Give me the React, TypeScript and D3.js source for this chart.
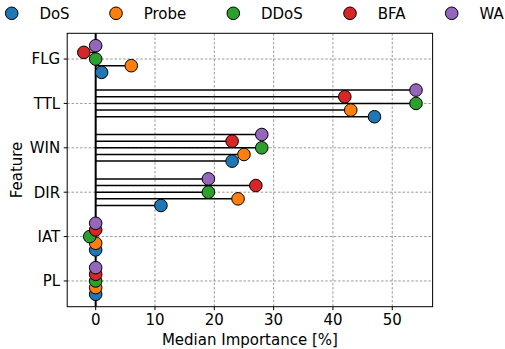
import React from "react";
import * as d3 from "d3";

const features = ["FLG", "TTL", "WIN", "DIR", "IAT", "PL"];
const seriesNames = ["DoS", "Probe", "DDoS", "BFA", "WA"];
const dosValues = [1, 47, 23, 11, 0, 0];
const probeValues = [6, 43, 25, 24, 0, 0];
const ddosValues = [0, 54, 28, 19, -1, 0];
const bfaValues = [-2, 42, 23, 27, 0, 0];
const waValues = [0, 54, 28, 19, 0, 0];
const xTicks = [0, 10, 20, 30, 40, 50];

const colors = ["#1f77b4", "#ff7f0e", "#2ca02c", "#d62728", "#9467bd"];
const offsets = [-0.3, -0.15, 0, 0.15, 0.3];
const legendX = [11.7, 116, 233.3, 350, 451.7];

const W = 505;
const H = 349;
const left = 67.2, right = 432.6, top = 33.3, bottom = 306.7;
const FONT = "'DejaVu Sans', sans-serif";
const FS = 15;

export default function App() {
  const allSeries = [dosValues, probeValues, ddosValues, bfaValues, waValues];
  const x = d3.scaleLinear().domain([-4.8, 56.8]).range([left, right]);
  const n = features.length;
  const y = d3.scaleLinear().domain([-0.58, n - 1 + 0.58]).range([bottom, top]);
  const fy = (i: number) => n - 1 - i;
  const r = 6.3;

  return (
    <svg width={W} height={H} style={{ position: "absolute", left: 0, top: 0, background: "#fff" }} fontFamily={FONT}>
      {xTicks.map((t) => (
        <line key={"gx" + t} x1={x(t)} x2={x(t)} y1={top} y2={bottom} stroke="#808080" strokeWidth={0.8} strokeDasharray="2.5,1.8" />
      ))}
      {features.map((f, i) => (
        <line key={"gy" + f} x1={left} x2={right} y1={y(fy(i))} y2={y(fy(i))} stroke="#808080" strokeWidth={0.8} strokeDasharray="2.5,1.8" />
      ))}
      <line x1={x(0)} x2={x(0)} y1={top} y2={bottom} stroke="#000" strokeWidth={2} />
      {allSeries.map((vals, s) => (
        <g key={"s" + s}>
          {vals.map((v, i) => (
            <line key={"st" + i} x1={x(0)} x2={x(v)} y1={y(fy(i) + offsets[s])} y2={y(fy(i) + offsets[s])} stroke="#000" strokeWidth={1.5} />
          ))}
        </g>
      ))}
      {allSeries.map((vals, s) => (
        <g key={"m" + s}>
          {vals.map((v, i) => (
            <circle key={"c" + i} cx={x(v)} cy={y(fy(i) + offsets[s])} r={r} fill={colors[s]} stroke="#000" strokeWidth={1} />
          ))}
        </g>
      ))}
      <rect x={left} y={top} width={right - left} height={bottom - top} fill="none" stroke="#000" strokeWidth={1} />
      {xTicks.map((t) => (
        <g key={"xt" + t}>
          <line x1={x(t)} x2={x(t)} y1={bottom} y2={bottom + 3.5} stroke="#000" strokeWidth={1} />
          <text x={x(t)} y={bottom + 17.8} textAnchor="middle" fontSize={FS} fill="#000">{t}</text>
        </g>
      ))}
      <text x={(left + right) / 2} y={344.5} textAnchor="middle" fontSize={FS} fill="#000">Median Importance [%]</text>
      {features.map((f, i) => (
        <g key={"yt" + f}>
          <line x1={left - 3.5} x2={left} y1={y(fy(i))} y2={y(fy(i))} stroke="#000" strokeWidth={1} />
          <text x={left - 7} y={y(fy(i))} dy="0.36em" textAnchor="end" fontSize={FS} fill="#000">{f}</text>
        </g>
      ))}
      <text transform={`translate(22, ${(top + bottom) / 2}) rotate(-90)`} textAnchor="middle" fontSize={FS} fill="#000">Feature</text>
      {seriesNames.map((name, s) => (
        <g key={"lg" + s}>
          <circle cx={legendX[s]} cy={13.3} r={r} fill={colors[s]} stroke="#000" strokeWidth={1} />
          <text x={legendX[s] + 27.7} y={13.3} dy="0.36em" fontSize={FS} fill="#000">{name}</text>
        </g>
      ))}
    </svg>
  );
}
